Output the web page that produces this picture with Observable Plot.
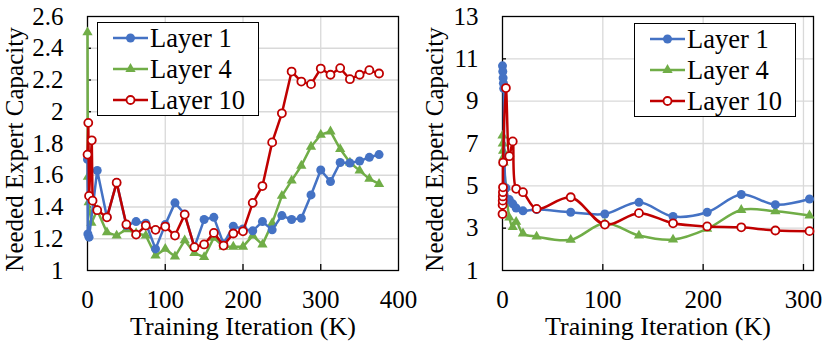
<!DOCTYPE html>
<html>
<head>
<meta charset="utf-8">
<script src="https://cdn.jsdelivr.net/npm/d3@7"></script>
<script src="https://cdn.jsdelivr.net/npm/@observablehq/plot@0.6"></script>
<style>
  html, body { margin: 0; padding: 0; background: #fff; }
  #wrap { position: relative; width: 830px; height: 344px; display: flex; overflow: hidden;
          font-family: "Liberation Serif", "Times New Roman", Tinos, "DejaVu Serif", serif; }
  #wrap > .panel { position: relative; width: 415px; height: 344px; }
  .legend { position: absolute; background: #fff; border: 1.3px solid #000; box-sizing: border-box; }
  .legend svg { display: block; overflow: visible; }
  svg text { font-family: "Liberation Serif", "Times New Roman", Tinos, "DejaVu Serif", serif; }
</style>
</head>
<body>
<div id="wrap"></div>
<script>
// ---------- Data ----------
const seriesNames = ["Layer 1", "Layer 4", "Layer 10"];
const seriesColors = ["#4472C4", "#70AD47", "#C00000"];

// Left panel
const leftL1X = [0, 0.5, 2, 12.5, 25, 37.5, 50, 62.5, 75, 87.5, 100, 112.5, 125, 137.5, 150, 162.5, 175, 187.5, 200, 212.5, 225, 237.5, 250, 262.5, 275, 287.5, 300, 312.5, 325, 337.5, 350, 362.5, 375];
const leftL1Y = [1.70, 1.23, 1.21, 1.63, 1.335, 1.555, 1.283, 1.308, 1.298, 1.136, 1.289, 1.426, 1.356, 1.147, 1.321, 1.335, 1.168, 1.279, 1.262, 1.25, 1.308, 1.256, 1.346, 1.321, 1.329, 1.476, 1.633, 1.56, 1.68, 1.677, 1.69, 1.713, 1.73];

const leftL4X = [0, 0.5, 1.5, 5, 12.5, 25, 37.5, 50, 62.5, 75, 87.5, 100, 112.5, 125, 137.5, 150, 162.5, 175, 187.5, 200, 212.5, 225, 237.5, 250, 262.5, 275, 287.5, 300, 312.5, 325, 337.5, 350, 362.5, 375];
const leftL4Y = [2.50, 1.59, 1.43, 1.30, 1.38, 1.24, 1.22, 1.26, 1.235, 1.22, 1.094, 1.136, 1.088, 1.19, 1.11, 1.084, 1.206, 1.15, 1.15, 1.15, 1.22, 1.163, 1.298, 1.47, 1.566, 1.66, 1.78, 1.855, 1.876, 1.765, 1.68, 1.629, 1.577, 1.545];

const leftL10X = [0, 1, 2, 5.5, 6.5, 12.5, 25, 37.5, 50, 62.5, 75, 87.5, 100, 112.5, 125, 137.5, 150, 162.5, 175, 187.5, 200, 212.5, 225, 237.5, 250, 262.5, 275, 287.5, 300, 312.5, 325, 337.5, 350, 362.5, 375];
const leftL10Y = [1.73, 1.93, 1.47, 1.82, 1.44, 1.38, 1.335, 1.553, 1.29, 1.226, 1.283, 1.256, 1.277, 1.22, 1.352, 1.147, 1.164, 1.237, 1.157, 1.233, 1.247, 1.426, 1.532, 1.807, 1.99, 2.253, 2.19, 2.174, 2.272, 2.233, 2.275, 2.205, 2.233, 2.262, 2.241];

const leftXTicks = [0, 100, 200, 300, 400];
const leftXTickLabels = ["0", "100", "200", "300", "400"];
const leftYTicks = [1, 1.2, 1.4, 1.6, 1.8, 2, 2.2, 2.4, 2.6];
const leftYTickLabels = ["1", "1.2", "1.4", "1.6", "1.8", "2", "2.2", "2.4", "2.6"];

// Right panel
const rightL1X = [0, 0.3, 0.6, 0.9, 1.2, 3.4, 6.8, 10.2, 13.6, 20.4, 34, 68, 102, 136, 170, 204, 238, 272, 306];
const rightL1Y = [10.67, 10.4, 10.1, 9.85, 9.6, 4.9, 4.35, 4.15, 3.95, 3.82, 3.88, 3.75, 3.67, 4.22, 3.55, 3.75, 4.59, 4.11, 4.38];

const rightL4X = [0, 0.3, 0.6, 0.9, 1.2, 3.4, 6.8, 10.2, 13.6, 20.4, 34, 68, 102, 136, 170, 204, 238, 272, 306];
const rightL4Y = [7.37, 7.0, 6.66, 6.35, 6.1, 4.93, 3.5, 3.05, 3.3, 2.75, 2.6, 2.45, 3.23, 2.65, 2.46, 2.97, 3.86, 3.80, 3.60];

const rightL10X = [0, 0.1, 0.2, 0.3, 0.4, 0.5, 0.6, 3.4, 6.8, 10.2, 13.6, 20.4, 34, 68, 102, 136, 170, 204, 238, 272, 306];
const rightL10Y = [3.67, 4.1, 4.3, 4.5, 4.7, 4.93, 6.1, 9.62, 6.4, 7.1, 4.86, 4.70, 3.91, 4.46, 3.17, 3.71, 3.23, 3.08, 3.04, 2.89, 2.86];

const rightXTicks = [0, 100, 200, 300];
const rightXTickLabels = ["0", "100", "200", "300"];
const rightYTicks = [1, 3, 5, 7, 9, 11, 13];
const rightYTickLabels = ["1", "3", "5", "7", "9", "11", "13"];

const xTitle = "Training Iteration (K)";
const yTitle = "Needed Expert Capacity";

// ---------- Build ----------
function table(xs, ys, name) { return xs.map((x, i) => ({x, y: ys[i], s: name})); }

const FONT = "'Liberation Serif', 'Times New Roman', Tinos, 'DejaVu Serif', serif";
const FS = 25;

function panel({sets, xDomain, xTicks, xLabels, yDomain, yTicks, yLabels, curve, yTitleDx}) {
  const [d1, d4, d10] = sets;
  const grid = {stroke: "#d9d9d9", strokeOpacity: 1, strokeWidth: 1.3};
  const xl = new Map(xTicks.map((t, i) => [t, xLabels[i]]));
  const yl = new Map(yTicks.map((t, i) => [t, yLabels[i]]));
  const inner = (ticks, dom) => ticks.filter(t => t > dom[0] && t < dom[1]);
  return Plot.plot({
    width: 415, height: 344,
    marginLeft: 87, marginRight: 17, marginTop: 16, marginBottom: 74,
    style: {fontFamily: FONT, fontSize: FS + "px", color: "#000", background: "transparent", overflow: "visible"},
    x: {domain: xDomain},
    y: {domain: yDomain},
    marks: [
      Plot.gridX(inner(xTicks, xDomain), grid),
      Plot.gridY(inner(yTicks, yDomain), grid),
      Plot.frame({stroke: "#000", strokeWidth: 1.3}),
      Plot.axisX(inner(xTicks, xDomain), {tickSize: -6, text: null, label: null, strokeWidth: 1.3}),
      Plot.axisY(inner(yTicks, yDomain), {tickSize: -4, text: null, label: null, strokeWidth: 1.3}),
      Plot.axisX(xTicks, {tickSize: 0, tickPadding: 20, tickFormat: t => xl.get(t), label: null, fontSize: FS}),
      Plot.axisY(yTicks, {tickSize: 0, tickPadding: 24, tickFormat: t => yl.get(t), label: null, fontSize: FS}),
      Plot.text([xTitle], {frameAnchor: "bottom", textAnchor: "middle", dy: 56, lineAnchor: "middle", fontSize: 26, fill: "#000"}),
      Plot.text([yTitle], {frameAnchor: "left", textAnchor: "middle", rotate: -90, dx: yTitleDx, dy: 6, lineAnchor: "top", fontSize: FS, fill: "#000"}),
      Plot.line(d4, {x: "x", y: "y", stroke: seriesColors[1], strokeWidth: 2.5, curve}),
      Plot.dot(d4, {x: "x", y: "y", symbol: "triangle", r: 3.8, fill: seriesColors[1], stroke: "none"}),
      Plot.line(d1, {x: "x", y: "y", stroke: seriesColors[0], strokeWidth: 2.5, curve}),
      Plot.dot(d1, {x: "x", y: "y", r: 4.5, fill: seriesColors[0], stroke: "none"}),
      Plot.line(d10, {x: "x", y: "y", stroke: seriesColors[2], strokeWidth: 2.5, curve}),
      Plot.dot(d10, {x: "x", y: "y", r: 4, fill: "#fff", stroke: seriesColors[2], strokeWidth: 1.8})
    ]
  });
}

function legend(left, top) {
  const ns = "http://www.w3.org/2000/svg";
  const box = document.createElement("div");
  box.className = "legend";
  box.style.left = left + "px"; box.style.top = top + "px";
  box.style.width = "162px"; box.style.height = "94px";
  const svg = document.createElementNS(ns, "svg");
  svg.setAttribute("width", 160); svg.setAttribute("height", 92);
  const rows = [15, 46, 77];
  seriesNames.forEach((name, i) => {
    const y = rows[i];
    const g = document.createElementNS(ns, "g");
    const ln = document.createElementNS(ns, "line");
    ln.setAttribute("x1", 15); ln.setAttribute("x2", 50); ln.setAttribute("y1", y); ln.setAttribute("y2", y);
    ln.setAttribute("stroke", seriesColors[i]); ln.setAttribute("stroke-width", 2.5);
    g.appendChild(ln);
    let m;
    if (i === 1) {
      m = document.createElementNS(ns, "path");
      m.setAttribute("d", d3.symbol(d3.symbolTriangle, Math.PI * 3.8 * 3.8)());
      m.setAttribute("transform", `translate(32.5,${y})`);
      m.setAttribute("fill", seriesColors[i]);
    } else {
      m = document.createElementNS(ns, "circle");
      m.setAttribute("cx", 32.5); m.setAttribute("cy", y);
      if (i === 0) { m.setAttribute("r", 4.5); m.setAttribute("fill", seriesColors[i]); }
      else { m.setAttribute("r", 4); m.setAttribute("fill", "#fff"); m.setAttribute("stroke", seriesColors[i]); m.setAttribute("stroke-width", 1.8); }
    }
    g.appendChild(m);
    const tx = document.createElementNS(ns, "text");
    tx.setAttribute("x", 52); tx.setAttribute("y", y);
    tx.setAttribute("dy", "0.34em");
    tx.setAttribute("font-size", 26.5);
    tx.setAttribute("fill", "#000");
    tx.textContent = name;
    g.appendChild(tx);
    svg.appendChild(g);
  });
  box.appendChild(svg);
  return box;
}

const wrap = document.getElementById("wrap");

const leftPanel = document.createElement("div"); leftPanel.className = "panel";
leftPanel.appendChild(panel({
  sets: [table(leftL1X, leftL1Y, seriesNames[0]), table(leftL4X, leftL4Y, seriesNames[1]), table(leftL10X, leftL10Y, seriesNames[2])],
  xDomain: [0, 400], xTicks: leftXTicks, xLabels: leftXTickLabels,
  yDomain: [1, 2.6], yTicks: leftYTicks, yLabels: leftYTickLabels,
  curve: "linear", yTitleDx: -82
}));
leftPanel.appendChild(legend(97, 22));
wrap.appendChild(leftPanel);

const rightPanel = document.createElement("div"); rightPanel.className = "panel";
rightPanel.appendChild(panel({
  sets: [table(rightL1X, rightL1Y, seriesNames[0]), table(rightL4X, rightL4Y, seriesNames[1]), table(rightL10X, rightL10Y, seriesNames[2])],
  xDomain: [0, 310], xTicks: rightXTicks, xLabels: rightXTickLabels,
  yDomain: [1, 13], yTicks: rightYTicks, yLabels: rightYTickLabels,
  curve: "catmull-rom", yTitleDx: -77
}));
rightPanel.appendChild(legend(219, 23));
wrap.appendChild(rightPanel);
</script>
</body>
</html>
